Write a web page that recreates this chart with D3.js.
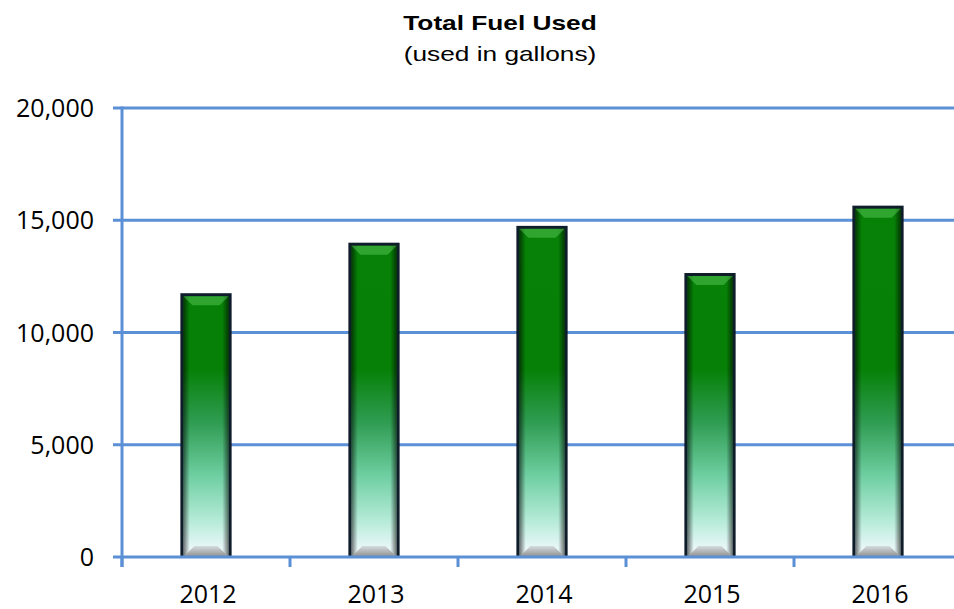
<!DOCTYPE html>
<html>
<head>
<meta charset="utf-8">
<script src="https://cdn.jsdelivr.net/npm/d3@7"></script>
<style>
  html, body { margin: 0; padding: 0; background: #fff; }
  svg { display: block; }
</style>
</head>
<body>
<svg id="chart" width="954" height="609"></svg>
<script>
// chart data
var years = ["2012", "2013", "2014", "2015", "2016"];
var fuelUsed = [11750, 14000, 14750, 12650, 15650];
var yTicks = [0, 5000, 10000, 15000, 20000];

var width = 954, height = 609;
var margin = { top: 108, right: -8, bottom: 52, left: 122 };
var axisColor = "#5b8fd6";

var svg = d3.select("#chart");

var x = d3.scaleBand()
  .domain(years)
  .range([margin.left, width - margin.right])
  .paddingInner(0.695)
  .paddingOuter(0.3475);

var y = d3.scaleLinear()
  .domain([0, 20000])
  .range([height - margin.bottom, margin.top]);

// gradients
var defs = svg.append("defs");
var face = defs.append("linearGradient")
  .attr("id", "faceGrad")
  .attr("gradientUnits", "userSpaceOnUse")
  .attr("x1", 0).attr("x2", 0)
  .attr("y1", y(20000)).attr("y2", y(0));
[[0, "#078207"], [0.58, "#068006"], [0.7, "#2f9c52"], [0.82, "#6fcfa2"],
 [0.92, "#b6ebd8"], [0.98, "#e8f7f7"]].forEach(function (s) {
  face.append("stop").attr("offset", s[0]).attr("stop-color", s[1]);
});

var sides = defs.append("linearGradient")
  .attr("id", "sideGrad")
  .attr("x1", 0).attr("x2", 1).attr("y1", 0).attr("y2", 0);
[[0, "rgba(0,0,0,0.55)"], [0.14, "rgba(0,0,0,0)"], [0.86, "rgba(0,0,0,0)"],
 [1, "rgba(0,0,0,0.55)"]].forEach(function (s) {
  sides.append("stop").attr("offset", s[0]).attr("stop-color", s[1]);
});

var base = defs.append("linearGradient")
  .attr("id", "baseGrad")
  .attr("x1", 0).attr("x2", 0).attr("y1", 0).attr("y2", 1);
[[0, "#d6dcdc"], [1, "#8e8e8e"]].forEach(function (s) {
  base.append("stop").attr("offset", s[0]).attr("stop-color", s[1]);
});

// title (the original is stretched sideways)
svg.append("text")
  .attr("transform", "translate(500,30) scale(1.25,1)")
  .attr("text-anchor", "middle")
  .style("font-family", "Liberation Sans, Arial, sans-serif")
  .style("font-weight", "bold")
  .style("font-size", "21px")
  .text("Total Fuel Used");

svg.append("text")
  .attr("transform", "translate(500,61) scale(1.25,1)")
  .attr("text-anchor", "middle")
  .style("font-family", "Liberation Sans, Arial, sans-serif")
  .style("font-size", "21px")
  .text("(used in gallons)");

// gridlines (behind bars)
svg.append("g")
  .selectAll("line")
  .data(yTicks.filter(function (d) { return d > 0; }))
  .enter()
  .append("line")
  .attr("x1", margin.left - 9)
  .attr("x2", width + 10)
  .attr("y1", function (d) { return y(d); })
  .attr("y2", function (d) { return y(d); })
  .attr("stroke", axisColor)
  .attr("stroke-width", 3);

// bars
var bars = svg.append("g")
  .selectAll("g")
  .data(fuelUsed)
  .enter()
  .append("g");

bars.each(function (d, i) {
  var g = d3.select(this);
  var x0 = x(years[i]), w = x.bandwidth();
  var y0 = y(d), yb = y(0);
  var b = 3;

  g.append("rect")
    .attr("x", x0).attr("y", y0)
    .attr("width", w).attr("height", yb - y0)
    .attr("fill", "#0f1c2a");

  g.append("rect")
    .attr("x", x0 + b).attr("y", y0 + b)
    .attr("width", w - 2 * b).attr("height", yb - y0 - b)
    .attr("fill", "url(#faceGrad)");

  g.append("rect")
    .attr("x", x0 + b).attr("y", y0 + b)
    .attr("width", w - 2 * b).attr("height", yb - y0 - b)
    .attr("fill", "url(#sideGrad)");

  // top bevel
  var t = 9;
  g.append("polygon")
    .attr("points", [
      [x0 + b, y0 + b], [x0 + w - b, y0 + b],
      [x0 + w - b - t, y0 + b + t], [x0 + b + t, y0 + b + t]
    ].join(" "))
    .attr("fill", "rgba(110,220,110,0.4)");

  // bottom bevel
  var k = 11;
  g.append("polygon")
    .attr("points", [
      [x0 + b, yb], [x0 + w - b, yb],
      [x0 + w - b - k, yb - k], [x0 + b + k, yb - k]
    ].join(" "))
    .attr("fill", "url(#baseGrad)");
});

// x axis line and ticks (drawn over bars)
svg.append("line")
  .attr("x1", margin.left - 9).attr("x2", width + 10)
  .attr("y1", y(0)).attr("y2", y(0))
  .attr("stroke", axisColor)
  .attr("stroke-width", 3);

var xTicks = years.map(function (d) { return x(d) - x.step() * x.paddingOuter(); });
svg.append("g")
  .selectAll("line")
  .data(xTicks)
  .enter()
  .append("line")
  .attr("x1", function (d) { return d; })
  .attr("x2", function (d) { return d; })
  .attr("y1", y(0))
  .attr("y2", y(0) + 10)
  .attr("stroke", axisColor)
  .attr("stroke-width", 3);

// y axis line
svg.append("line")
  .attr("x1", margin.left).attr("x2", margin.left)
  .attr("y1", y(20000) - 1.5).attr("y2", y(0) + 10)
  .attr("stroke", axisColor)
  .attr("stroke-width", 3);

// y labels
var fmt = d3.format(",");
svg.append("g")
  .selectAll("text")
  .data(yTicks)
  .enter()
  .append("text")
  .attr("x", 94)
  .attr("y", function (d) { return y(d); })
  .attr("dy", "0.36em")
  .attr("text-anchor", "end")
  .style("font-family", "Open Sans, sans-serif")
  .style("font-size", "25px")
  .style("fill", "#000")
  .text(function (d) { return fmt(d); });

// x labels
svg.append("g")
  .selectAll("text")
  .data(years)
  .enter()
  .append("text")
  .attr("x", function (d) { return x(d) + x.bandwidth() / 2 + 2; })
  .attr("y", 603)
  .attr("text-anchor", "middle")
  .style("font-family", "Open Sans, sans-serif")
  .style("font-size", "25px")
  .style("fill", "#000")
  .text(function (d) { return d; });
</script>
</body>
</html>
